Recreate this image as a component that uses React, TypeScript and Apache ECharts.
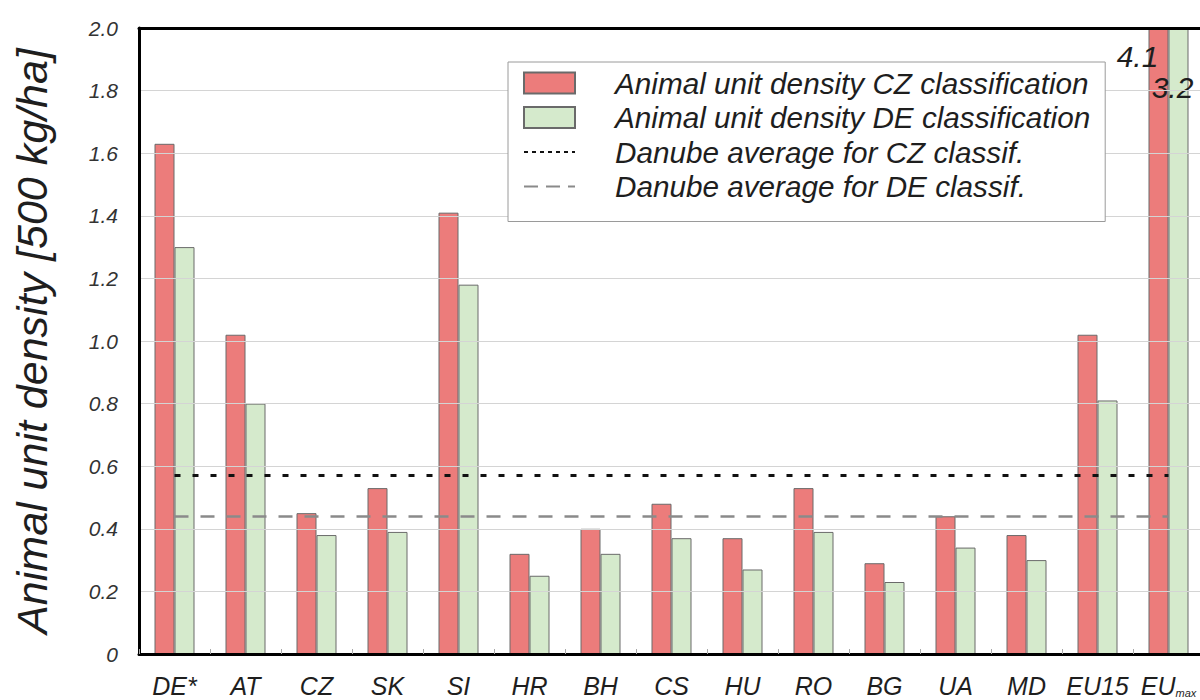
import React, { useEffect, useRef } from "react";
import * as echarts from "echarts";

const categories = ["DE*", "AT", "CZ", "SK", "SI", "HR", "BH", "CS", "HU", "RO", "BG", "UA", "MD", "EU15", "EUmax"];
const czValues = [1.63, 1.02, 0.45, 0.53, 1.41, 0.32, 0.40, 0.48, 0.37, 0.53, 0.29, 0.44, 0.38, 1.02, 4.1];
const deValues = [1.30, 0.80, 0.38, 0.39, 1.18, 0.25, 0.32, 0.37, 0.27, 0.39, 0.23, 0.34, 0.30, 0.81, 3.2];
const avgCZ = 0.57;
const avgDE = 0.44;
const yTicks = [0, 0.2, 0.4, 0.6, 0.8, 1.0, 1.2, 1.4, 1.6, 1.8, 2.0];

const FONT = "'Liberation Sans', Arial, sans-serif";
const RED = "#ec7c7b";
const GREEN = "#d5eacc";
const TXT = "#1e1e1e";

export default function App() {
  const ref = useRef<HTMLDivElement>(null);
  useEffect(() => {
    document.body.style.margin = "0";
    const chart = echarts.init(ref.current!, null, { renderer: "svg" });
    const last = categories.length - 1;
    const valueLabel = (v: number, offset: number[]) => ({
      show: true,
      position: "insideTop",
      formatter: String(v),
      fontSize: 30,
      fontStyle: "italic",
      fontFamily: FONT,
      color: TXT,
      offset,
    });
    const czData = czValues.map((v, i) => (i === last ? { value: v, label: valueLabel(v, [-21, 9]) } : v));
    const deData = deValues.map((v, i) => (i === last ? { value: v, label: valueLabel(v, [-6, 40]) } : v));
    const hiddenSymbol = { color: "rgba(0,0,0,0)", borderColor: "rgba(0,0,0,0)", borderWidth: 0 };
    chart.setOption({
      animation: false,
      textStyle: { fontFamily: FONT },
      grid: { left: 139, top: 28, width: 1065, bottom: 46, containLabel: false, outerBoundsMode: "none" },
      legend: {
        orient: "vertical",
        left: 508,
        top: 62,
        z: 20,
        padding: [6, 15, 20, 15],
        itemWidth: 51,
        itemHeight: 21,
        itemGap: 4.5,
        backgroundColor: "#ffffff",
        borderColor: "#9a9a9a",
        borderWidth: 1,
        selectedMode: false,
        textStyle: {
          fontSize: 29.7,
          fontStyle: "italic",
          fontFamily: FONT,
          color: TXT,
          padding: [0, 0, 0, 35],
        },
        data: [
          { name: "Animal unit density CZ classification", icon: "rect" },
          { name: "Animal unit density DE classification", icon: "rect" },
          { name: "Danube average for CZ classif.", itemStyle: hiddenSymbol },
          { name: "Danube average for DE classif.", itemStyle: hiddenSymbol },
        ],
      },
      xAxis: [
        {
          type: "category",
          data: categories,
          axisLine: { lineStyle: { color: "#000", width: 3 } },
          axisTick: { show: true, inside: true, length: 5, interval: 0, lineStyle: { color: "#aaa" } },
          axisLabel: {
            interval: 0,
            margin: 19,
            fontSize: 25,
            fontStyle: "italic",
            fontFamily: FONT,
            color: TXT,
            formatter: (v: string) => (v === "EUmax" ? "{a|EU}{b|max}" : v),
            rich: {
              a: { fontSize: 25, lineHeight: 25, fontStyle: "italic", fontFamily: FONT, color: TXT },
              b: { fontSize: 11, lineHeight: 11, fontStyle: "italic", fontFamily: FONT, color: TXT, verticalAlign: "top", padding: [14, 0, 0, 0] },
            },
          },
          z: 10,
        },
        {
          type: "category",
          position: "top",
          data: categories,
          axisLine: { lineStyle: { color: "#000", width: 3 } },
          axisTick: { show: false },
          axisLabel: { show: false },
          z: 10,
        },
      ],
      yAxis: {
        type: "value",
        min: yTicks[0],
        max: yTicks[yTicks.length - 1],
        interval: 0.2,
        name: "Animal unit density [500 kg/ha]",
        nameLocation: "middle",
        nameGap: 86,
        nameTextStyle: { fontSize: 43, fontStyle: "italic", fontFamily: FONT, color: TXT },
        axisLine: { show: true, lineStyle: { color: "#000", width: 3 } },
        axisTick: { show: false },
        splitLine: { lineStyle: { color: "#d4d4d4", width: 1 } },
        axisLabel: {
          margin: 21,
          fontSize: 21,
          fontStyle: "italic",
          fontFamily: FONT,
          color: "#333",
          formatter: (v: number) => (v === 0 ? "0" : v.toFixed(1)),
        },
        z: 10,
      },
      series: [
        {
          name: "Animal unit density CZ classification",
          type: "bar",
          data: czData,
          barWidth: 20,
          barGap: "0%",
          itemStyle: { color: RED, borderColor: "#6a6a6a", borderWidth: 1 },
        },
        {
          name: "Animal unit density DE classification",
          type: "bar",
          data: deData,
          barWidth: 20,
          barGap: "0%",
          itemStyle: { color: GREEN, borderColor: "#6a6a6a", borderWidth: 1 },
        },
        {
          name: "Danube average for CZ classif.",
          type: "line",
          data: [],
          symbol: "none",
          itemStyle: { color: "#111" },
          lineStyle: { color: "#111", width: 3, type: [4, 4] },
          markLine: {
            silent: true,
            symbol: ["none", "none"],
            label: { show: false },
            lineStyle: { color: "#111", width: 3, type: [6, 12] },
            data: [[{ coord: [0, avgCZ] }, { coord: [last, avgCZ] }]],
          },
        },
        {
          name: "Danube average for DE classif.",
          type: "line",
          data: [],
          symbol: "none",
          itemStyle: { color: "#8a8a8a" },
          lineStyle: { color: "#8a8a8a", width: 3, type: [14, 8] },
          markLine: {
            silent: true,
            symbol: ["none", "none"],
            label: { show: false },
            lineStyle: { color: "#8a8a8a", width: 2.5, type: [14, 12] },
            data: [[{ coord: [0, avgDE] }, { coord: [last, avgDE] }]],
          },
        },
      ],
    });
    return () => chart.dispose();
  }, []);
  return <div ref={ref} style={{ width: 1200, height: 700 }} />;
}
